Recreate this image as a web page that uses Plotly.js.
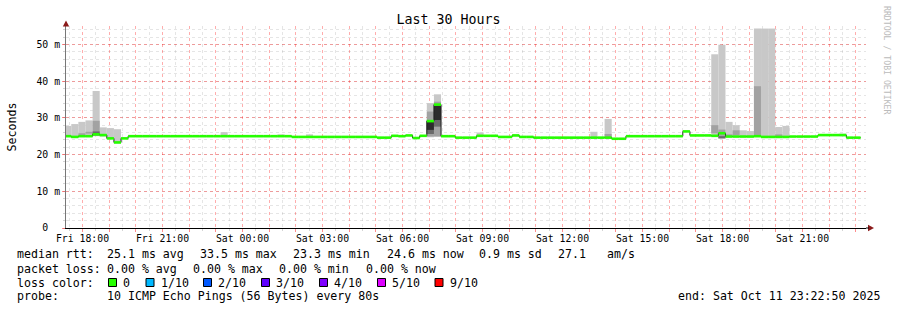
<!DOCTYPE html>
<html><head><meta charset="utf-8">
<script src="https://cdn.plot.ly/plotly-3.0.1.min.js"></script>
<style>html,body{margin:0;padding:0;background:#fff;}#chart{width:897px;height:310px;}</style>
</head><body><div id="chart"></div>
<script>
// ---------- DATA ----------
const rangeStart = Date.UTC(2025, 9, 10, 17, 22, 50);
const rangeEnd   = Date.UTC(2025, 9, 11, 23, 22, 50);
const firstBucket = Date.UTC(2025, 9, 10, 17, 18, 40);
const bucketMinutes = 16;

// median RTT per bucket (ms)
const median = [
  25.0,24.8,25.0,25.0,25.5,25.3,24.4,23.3,
  24.4,25.0,25.0,25.0,25.0,25.0,25.0,25.0,
  25.0,25.0,25.0,25.0,25.0,25.0,25.0,25.0,
  25.0,25.0,25.0,25.0,25.0,25.0,25.0,25.0,
  24.8,24.8,24.8,24.8,24.8,24.8,24.8,24.8,
  24.8,24.8,24.8,24.8,24.6,24.6,25.1,25.0,
  25.2,24.5,25.1,29.1,33.6,25.0,25.0,24.6,
  24.6,24.6,25.1,25.1,25.1,24.8,24.8,25.2,
  24.8,24.8,24.6,24.6,24.6,24.6,24.6,24.6,
  24.6,24.6,24.6,24.6,24.6,24.3,24.3,25.0,
  25.0,25.0,25.0,25.0,25.0,25.0,25.0,26.3,
  25.2,25.2,25.2,25.1,25.8,24.9,24.9,24.9,
  24.9,25.0,24.8,24.8,24.8,24.8,24.9,24.9,
  24.9,24.9,25.3,25.3,25.3,25.3,24.6,24.6
];

// smoke: light band (outer pings)
const lightIdx = [0,1,2,3,4,5,6,7,22,30,34,51,52,58,63,74,76,91,92,93,94,95,96,97,98,99,100,101,109];
const lightLo  = [24.8,24.6,24.8,24.9,25.0,24.9,24.2,23.0,25.0,25.0,25.0,24.7,24.9,25.0,25.0,24.6,24.6,25.0,24.7,24.9,24.9,24.9,24.9,24.9,24.8,24.8,24.8,24.8,25.0];
const lightHi  = [27.8,28.3,28.9,29.3,37.3,27.4,27.2,26.9,26.1,25.5,25.5,34.0,36.4,26.0,25.5,26.2,29.7,47.3,49.9,28.9,28.0,26.6,26.4,54.3,54.3,54.3,27.5,27.8,25.7];
// smoke: medium band
const midIdx = [1,2,3,4,51,52,76,91,92,93,94,97,100];
const midLo  = [24.6,25.3,25.7,25.2,24.9,24.9,24.6,25.8,24.4,25.0,25.3,25.0,25.0];
const midHi  = [25.0,25.8,26.2,29.2,31.7,34.4,25.6,28.0,26.8,25.5,26.6,38.6,25.5];
// smoke: dark band
const darkIdx = [4,51,52,92];
const darkLo  = [25.2,25.6,27.6,24.4];
const darkHi  = [26.3,26.7,29.4,25.0];
// smoke: darkest band (inner pings)
const blackIdx = [51,52];
const blackLo  = [26.7,29.4];
const blackHi  = [29.3,33.3];

const yTickVals = [0,10,20,30,40,50];
const yTickText = ['0\u00a0\u00a0','10 m','20 m','30 m','40 m','50 m'];

const statLabels = ['median rtt:','packet loss:','loss color:','probe:'];
const rttStats  = ['25.1 ms avg','33.5 ms max','23.3 ms min','24.6 ms now','0.9 ms sd','27.1','am/s'];
const lossStats = ['0.00 % avg','0.00 % max','0.00 % min','0.00 % now'];
const lossLabels = ['0','1/10','2/10','3/10','4/10','5/10','9/10'];
const lossColors = ['#26ff00','#00b8ff','#0059ff','#5e00ff','#7e00ff','#dd00ff','#ff0000'];
const probeText = '10 ICMP Echo Pings (56 Bytes) every 80s';
const endText = 'end: Sat Oct 11 23:22:50 2025';
const watermark = 'RRDTOOL / TOBI OETIKER';

// ---------- BUILD ----------
const MONO = 'DejaVu Sans Mono';
const L = 66, T = 26, W = 800, H = 202, B = T + H;
const px = x => (x - L) / W;
const py = y => (B - y) / H;
const step = bucketMinutes * 60000;
const t = i => firstBucket + i * step;

function smoke(idx, lo, hi, color) {
  return {
    type: 'bar', x: idx.map(t), base: lo, y: hi.map((h, k) => h - lo[k]),
    width: step, offset: 0, marker: {color: color, line: {width: 0}},
    hoverinfo: 'skip', showlegend: false
  };
}

const stepX = median.map((_, i) => t(i)); stepX.push(t(median.length));
const stepY = median.slice(); stepY.push(median[median.length - 1]);
const gx = [], gy = [];
median.forEach((m, i) => { gx.push(t(i), t(i + 1), null); gy.push(m, m, null); });

const traces = [
  smoke(lightIdx, lightLo, lightHi, '#c8c8c8'),
  smoke(midIdx, midLo, midHi, '#a2a2a2'),
  smoke(darkIdx, darkLo, darkHi, '#6a6a6a'),
  smoke(blackIdx, blackLo, blackHi, '#2c2c2c'),
  {type: 'scatter', mode: 'lines', x: stepX, y: stepY, line: {color: '#202020', width: 1, shape: 'hv'}, hoverinfo: 'skip', showlegend: false},
  {type: 'scatter', mode: 'lines', x: gx, y: gy, line: {color: lossColors[0], width: 2.6}, hoverinfo: 'skip', showlegend: false, connectgaps: false}
];

const ann = [];
function txt(s, x, y, extra) {
  ann.push(Object.assign({text: s, x: px(x), y: py(y), xref: 'paper', yref: 'paper', xanchor: 'left', yanchor: 'middle',
    showarrow: false, borderpad: 0, borderwidth: 0, font: {family: MONO, size: 11.6, color: '#000'}}, extra || {}));
}
const rows = [254.5, 268.5, 282.5, 296.3];
statLabels.forEach((s, k) => txt(s, 16.5, rows[k]));
[107.3, 200, 293.3, 386.7, 479.3, 558.3, 606.7].forEach((x, k) => txt(rttStats[k], x, rows[0]));
[107.3, 193.3, 279.3, 365.7].forEach((x, k) => txt(lossStats[k], x, rows[1]));
const sqX = [108.5, 146, 203.5, 261.5, 319.5, 377.5, 435];
const lblX = [123.3, 160.7, 218.3, 276, 334, 391.7, 449.5];
const shapes = [];
lossLabels.forEach((s, k) => {
  txt(s, lblX[k], rows[2]);
  shapes.push({type: 'rect', xref: 'paper', yref: 'paper', x0: px(sqX[k]), x1: px(sqX[k] + 8), y0: py(286.5), y1: py(278.5),
    fillcolor: lossColors[k], line: {color: '#000', width: 1}});
});
txt(probeText, 107.3, rows[3]);
txt(endText, 678.3, rows[3]);
ann.push({text: watermark, x: px(887), y: py(60), xref: 'paper', yref: 'paper', xanchor: 'center', yanchor: 'middle',
  showarrow: false, textangle: 90, font: {family: MONO, size: 8.2, color: '#bbbbbb'}});

const arrowCol = '#8b1a1a';
shapes.push({type: 'path', xref: 'paper', yref: 'paper',
  path: `M ${px(66)} ${py(20.5)} L ${px(62.8)} ${py(26.5)} L ${px(69.2)} ${py(26.5)} Z`, fillcolor: arrowCol, line: {width: 0}});
shapes.push({type: 'path', xref: 'paper', yref: 'paper',
  path: `M ${px(874)} ${py(228)} L ${px(868)} ${py(224.8)} L ${px(868)} ${py(231.2)} Z`, fillcolor: arrowCol, line: {width: 0}});
shapes.push({type: 'line', xref: 'paper', yref: 'paper', x0: px(866), x1: px(869), y0: 0, y1: 0, line: {color: '#000', width: 1}});

const layout = {
  width: 897, height: 310,
  margin: {l: L, r: 897 - L - W, t: T, b: 310 - B, pad: 0},
  paper_bgcolor: '#fff', plot_bgcolor: '#fff',
  barmode: 'overlay', showlegend: false,
  font: {family: MONO, size: 9.8, color: '#000'},
  title: {text: 'Last 30 Hours', font: {family: MONO, size: 13.3, color: '#000'},
    x: 0.5, xref: 'container', xanchor: 'center', y: 1 - 19.5 / 310, yref: 'container', yanchor: 'middle'},
  xaxis: {
    type: 'date', range: [rangeStart, rangeEnd], fixedrange: true,
    tickmode: 'linear', tick0: Date.UTC(2025, 9, 10, 18, 0, 0), dtick: 3600000, ticklabelstep: 3,
    tickformat: '%a %H:%M', tickfont: {family: MONO, size: 9.8, color: '#000'}, ticklabelstandoff: -2,
    ticks: 'outside', ticklen: 3, tickcolor: 'rgba(255,0,0,0.45)', tickwidth: 1,
    showgrid: true, gridcolor: 'rgba(255,0,0,0.32)', griddash: 'dot', gridwidth: 1,
    minor: {tickmode: 'linear', tick0: Date.UTC(2025, 9, 10, 17, 30, 0), dtick: 1800000, showgrid: true,
      gridcolor: 'rgba(150,150,150,0.25)', griddash: 'dot', gridwidth: 1, ticks: 'outside', ticklen: 2, tickcolor: 'rgba(150,150,150,0.4)'},
    showline: true, linecolor: '#000', linewidth: 1, zeroline: false, automargin: false
  },
  yaxis: {
    range: [0, 55], fixedrange: true,
    tickmode: 'array', tickvals: yTickVals, ticktext: yTickText,
    tickfont: {family: MONO, size: 9.8, color: '#000'},
    ticks: 'outside', ticklen: 3, tickcolor: 'rgba(255,0,0,0.45)',
    showgrid: true, gridcolor: 'rgba(255,0,0,0.32)', griddash: 'dot', gridwidth: 1,
    minor: {tickmode: 'linear', tick0: 0, dtick: 2, showgrid: true,
      gridcolor: 'rgba(150,150,150,0.25)', griddash: 'dot', gridwidth: 1, ticks: 'outside', ticklen: 2, tickcolor: 'rgba(150,150,150,0.4)'},
    showline: true, linecolor: '#777', linewidth: 1, zeroline: false, automargin: false,
    title: {text: 'Seconds', font: {family: MONO, size: 11.6, color: '#000'}, standoff: 17}
  },
  annotations: ann, shapes: shapes
};

Plotly.newPlot('chart', traces, layout, {staticPlot: true, displayModeBar: false});
</script></body></html>
